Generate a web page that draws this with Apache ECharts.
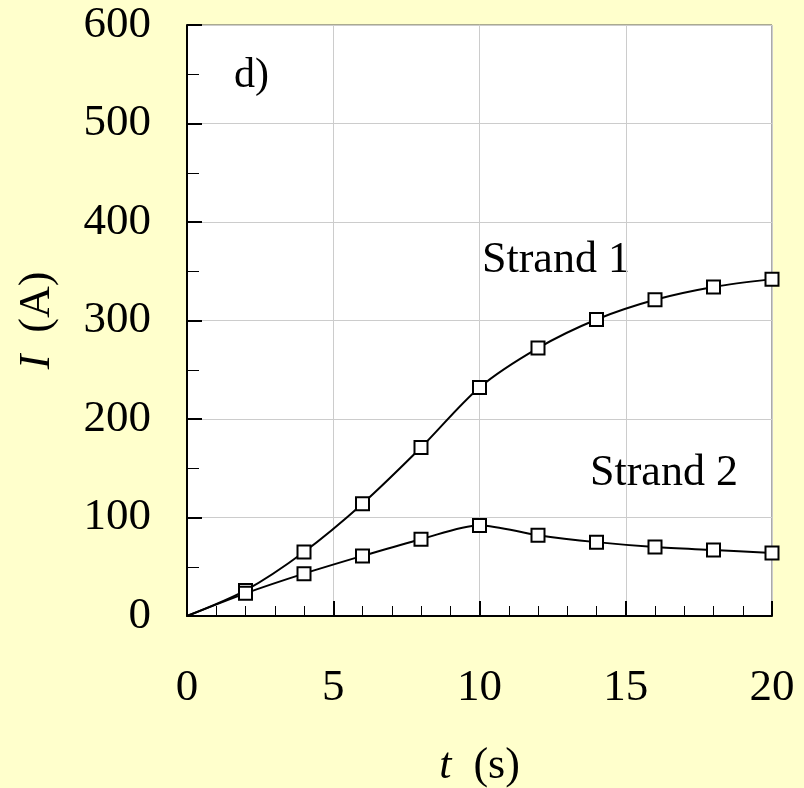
<!DOCTYPE html>
<html lang="en">
<head>
    <meta charset="UTF-8">
    <title>Strand currents</title>
    <script src="https://cdn.jsdelivr.net/npm/echarts@6/dist/echarts.min.js"></script>
    <style>
        html, body { margin: 0; padding: 0; background: #FFFFCC; }
        #chart { width: 804px; height: 788px; }
    </style>
</head>
<body>
<div id="chart"></div>
<script>
    // data
    var times = [0, 2, 4, 6, 8, 10, 12, 14, 16, 18, 20];
    var strand1 = [0, 26, 65, 114, 171, 232, 272, 301, 321, 334, 342];
    var strand2 = [0, 23, 43, 61, 78, 92, 82, 75, 70, 67, 64];

    var font = '"Liberation Serif", "Times New Roman", serif';

    function toPoints(vals) {
        var pts = [];
        for (var i = 0; i < times.length; i++) {
            // the curve starts at the origin without a marker
            if (i == 0) pts.push({value: [times[i], vals[i]], symbol: 'none'});
            else pts.push([times[i], vals[i]]);
        }
        return pts;
    }

    function lineSeries(name, vals) {
        return {
            name: name,
            type: 'line',
            smooth: 0.3,
            data: toPoints(vals),
            symbol: 'rect',
            symbolSize: 13,
            itemStyle: {color: '#ffffff', borderColor: '#000', borderWidth: 2},
            lineStyle: {color: '#000', width: 2},
            emphasis: {disabled: true},
            z: 3
        };
    }

    var option = {
        backgroundColor: '#FFFFCC',
        animation: false,
        grid: {
            left: 187, top: 25, right: 32, bottom: 172,
            outerBoundsMode: 'none',
            show: true, backgroundColor: '#ffffff', borderColor: '#555', borderWidth: 1
        },
        xAxis: {
            type: 'value', min: 0, max: 20, interval: 5,
            name: '{i|t}  (s)', nameLocation: 'middle', nameGap: 128,
            nameTextStyle: {
                fontFamily: font, fontSize: 44, color: '#000',
                rich: {i: {fontFamily: font, fontSize: 44, fontStyle: 'italic', color: '#000'}}
            },
            axisLine: {show: true, lineStyle: {color: '#000', width: 2}},
            axisTick: {show: true, inside: true, length: 15, lineStyle: {color: '#000', width: 2}},
            minorTick: {show: true, splitNumber: 5, length: 10, lineStyle: {color: '#000', width: 1}},
            axisLabel: {fontFamily: font, fontSize: 45, color: '#000', margin: 50},
            splitLine: {show: true, lineStyle: {color: '#cccccc', width: 1}}
        },
        yAxis: {
            type: 'value', min: 0, max: 600, interval: 100,
            name: '{i|I}  (A)', nameLocation: 'middle', nameGap: 128, nameRotate: 90,
            nameTextStyle: {
                fontFamily: font, fontSize: 44, color: '#000',
                rich: {i: {fontFamily: font, fontSize: 44, fontStyle: 'italic', color: '#000'}}
            },
            axisLine: {show: true, lineStyle: {color: '#000', width: 2}},
            axisTick: {show: true, inside: true, length: 15, lineStyle: {color: '#000', width: 2}},
            minorTick: {show: true, splitNumber: 2, length: 12, lineStyle: {color: '#000', width: 1}},
            axisLabel: {fontFamily: font, fontSize: 45, color: '#000', margin: 36},
            splitLine: {show: true, lineStyle: {color: '#cccccc', width: 1}}
        },
        series: [
            lineSeries('Strand 1', strand1),
            lineSeries('Strand 2', strand2)
        ],
        graphic: [
            {type: 'text', left: 234, top: 55, style: {text: 'd)', font: '42px ' + font, fill: '#000'}},
            {type: 'text', left: 482, top: 238, style: {text: 'Strand 1', font: '44px ' + font, fill: '#000'}},
            {type: 'text', left: 590, top: 451, style: {text: 'Strand 2', font: '44px ' + font, fill: '#000'}}
        ]
    };

    var chart = echarts.init(document.getElementById('chart'));
    chart.setOption(option);
</script>
</body>
</html>
